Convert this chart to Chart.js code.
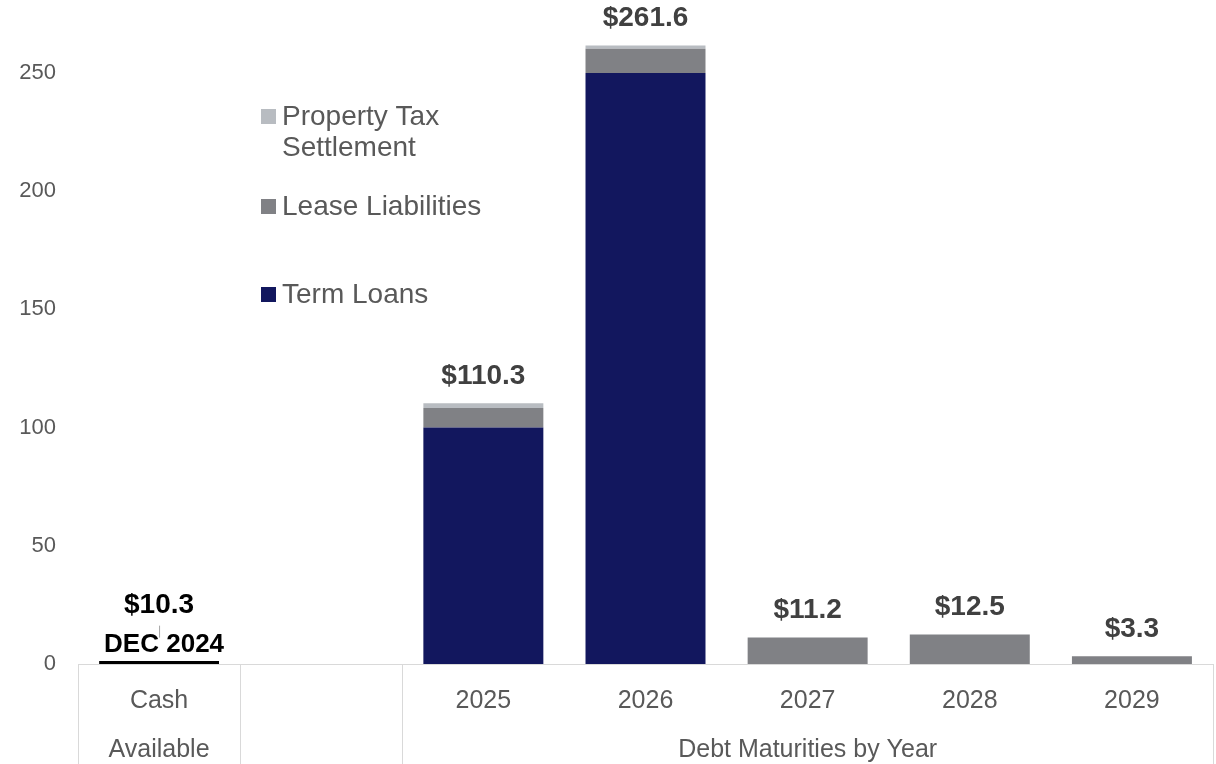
<!DOCTYPE html>
<html>
<head>
<meta charset="utf-8">
<title>Cash and Debt Maturities</title>
<script src="https://cdn.jsdelivr.net/npm/chart.js@4.4.1/dist/chart.umd.min.js"></script>
<style>
  html, body { margin: 0; padding: 0; background: #fff; }
  #wrap { width: 1216px; height: 764px; position: relative; }
</style>
</head>
<body>
<div id="wrap"><canvas id="maturityChart"></canvas></div>
<script>
const categories = ['Cash', '', '2025', '2026', '2027', '2028', '2029'];
const cashAvailable = [10.3, null, null, null, null, null, null];
const termLoans = [null, null, 100, 250, null, null, null];
const leaseLiabilities = [null, null, 8.3, 10.2, 11.2, 12.5, 3.3];
const propertyTaxSettlement = [null, null, 2.0, 1.4, null, null, null];
const yTicks = [0, 50, 100, 150, 200, 250];
const cashDateLabel = 'DEC 2024';
// second header row under the year labels: text spans categories from..to
const groupLabels = [
    { text: 'Available', from: 0, to: 0 },
    { text: 'Debt Maturities by Year', from: 2, to: 6 }
];

const FONT = '"Liberation Sans", Arial, sans-serif';
const GREY_TEXT = '#595959';
const LINE_GREY = '#d9d9d9';

const colors = {
    term: '#12175e',
    lease: '#808185',
    tax: '#b8bcc1'
};

// stack totals shown above each column
const totals = categories.map((_, i) =>
    [cashAvailable, termLoans, leaseLiabilities, propertyTaxSettlement]
        .reduce((acc, arr) => acc + (arr[i] || 0), 0));

const valueLabels = {
    id: 'valueLabels',
    afterDatasetsDraw(chart) {
        const ctx = chart.ctx;
        ctx.save();
        ctx.textAlign = 'center';
        ctx.textBaseline = 'middle';
        categories.forEach((_, i) => {
            if (!totals[i]) return;
            let top = Infinity, x = 0;
            chart.data.datasets.forEach((ds, d) => {
                if (ds.data[i] == null) return;
                const el = chart.getDatasetMeta(d).data[i];
                if (el.y < top) { top = el.y; x = el.x; }
            });
            ctx.font = 'bold 28px ' + FONT;
            ctx.fillStyle = i === 0 ? '#000000' : '#404040';
            ctx.fillText('$' + totals[i].toFixed(1), x, top - (i === 0 ? 34 : 27));
        });

        // date caption and leader line on the cash column
        const cashEl = chart.getDatasetMeta(0).data[0];
        ctx.strokeStyle = '#a6a6a6';
        ctx.lineWidth = 1;
        ctx.beginPath();
        ctx.moveTo(cashEl.x + 0.5, cashEl.y - 14);
        ctx.lineTo(cashEl.x + 0.5, cashEl.y - 2);
        ctx.stroke();
        ctx.font = 'bold 26px ' + FONT;
        ctx.fillStyle = '#000000';
        ctx.fillText(cashDateLabel, cashEl.x + 5, cashEl.y + 5);
        ctx.restore();
    }
};

const axisTable = {
    id: 'axisTable',
    afterDraw(chart) {
        const ctx = chart.ctx;
        const xs = chart.scales.x;
        const step = xs.width / categories.length;
        const edge = i => xs.left + step * i;
        ctx.save();
        ctx.strokeStyle = LINE_GREY;
        ctx.lineWidth = 1;
        [0, 1, 2, categories.length].forEach(i => {
            const x = Math.round(edge(i)) + 0.5;
            ctx.beginPath();
            ctx.moveTo(x, xs.top);
            ctx.lineTo(x, chart.height);
            ctx.stroke();
        });
        ctx.font = '25px ' + FONT;
        ctx.fillStyle = GREY_TEXT;
        ctx.textAlign = 'center';
        ctx.textBaseline = 'middle';
        groupLabels.forEach(g => {
            const cx = (edge(g.from) + edge(g.to + 1)) / 2;
            ctx.fillText(g.text, cx, xs.top + 86);
        });
        ctx.restore();
    }
};

const sideLegend = {
    id: 'sideLegend',
    afterDraw(chart) {
        const ctx = chart.ctx;
        const left = chart.chartArea.left + 183;
        const items = [
            { lines: ['Property Tax', 'Settlement'], color: colors.tax, y: 117 },
            { lines: ['Lease Liabilities'], color: colors.lease, y: 207 },
            { lines: ['Term Loans'], color: colors.term, y: 295 }
        ];
        ctx.save();
        ctx.font = '28px ' + FONT;
        ctx.textBaseline = 'middle';
        ctx.textAlign = 'left';
        items.forEach(item => {
            ctx.fillStyle = item.color;
            ctx.fillRect(left, item.y - 8, 15, 15);
            ctx.fillStyle = GREY_TEXT;
            item.lines.forEach((line, k) => {
                ctx.fillText(line, left + 21, item.y + k * 31);
            });
        });
        ctx.restore();
    }
};

const chart = new Chart(document.getElementById('maturityChart'), {
    type: 'bar',
    data: {
        labels: categories,
        datasets: [
            {
                label: 'Cash',
                data: cashAvailable,
                backgroundColor: 'rgba(0,0,0,0)',
                borderColor: '#000000',
                borderWidth: { top: 0, left: 0, right: 0, bottom: 3 },
                borderSkipped: false
            },
            { label: 'Term Loans', data: termLoans, backgroundColor: colors.term },
            { label: 'Lease Liabilities', data: leaseLiabilities, backgroundColor: colors.lease },
            { label: 'Property Tax Settlement', data: propertyTaxSettlement, backgroundColor: colors.tax }
        ]
    },
    options: {
        responsive: true,
        maintainAspectRatio: false,
        animation: false,
        layout: { padding: { top: 2, right: 3, left: 0, bottom: 0 } },
        datasets: {
            bar: { categoryPercentage: 1, barPercentage: 0.74, borderWidth: 0 }
        },
        scales: {
            x: {
                stacked: true,
                grid: { display: false, drawTicks: false },
                border: { display: true, color: LINE_GREY, width: 1 },
                ticks: {
                    color: GREY_TEXT,
                    font: { family: FONT, size: 25 },
                    padding: 22,
                    maxRotation: 0,
                    autoSkip: false
                },
                afterFit(scale) { scale.height = 100; }
            },
            y: {
                stacked: true,
                min: 0,
                max: 280,
                grid: { display: false, drawTicks: false },
                border: { display: false },
                ticks: {
                    color: GREY_TEXT,
                    font: { family: FONT, size: 22 },
                    padding: 22
                },
                afterBuildTicks(scale) {
                    scale.ticks = yTicks.map(v => ({ value: v }));
                },
                afterFit(scale) {
                    // labels may overhang the plot; keep the value range tall
                    scale.width = 78;
                    scale.paddingTop = 0;
                    scale.paddingBottom = 0;
                }
            }
        },
        plugins: {
            legend: { display: false },
            tooltip: { enabled: false }
        }
    },
    plugins: [valueLabels, axisTable, sideLegend]
});
</script>
</body>
</html>
